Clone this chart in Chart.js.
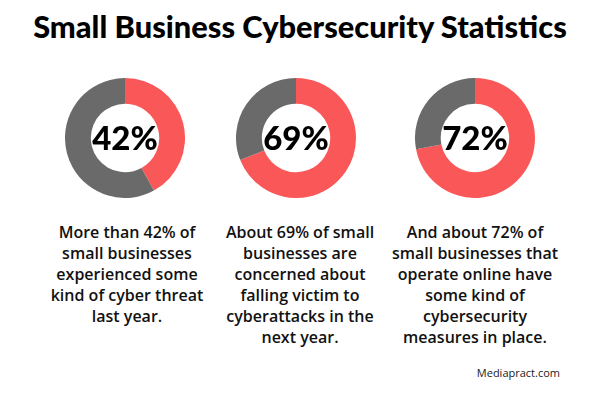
<!DOCTYPE html>
<html>
<head>
<meta charset="utf-8">
<script src="https://cdn.jsdelivr.net/npm/chart.js@4/dist/chart.umd.min.js"></script>
<style>
   html, body { margin: 0; padding: 0; background: #fff; }
   #page { position: relative; width: 600px; height: 400px; overflow: hidden; }
   #titulo {
      position: absolute; left: 0; top: 8px; width: 600px; text-align: center;
      font-family: Lato, sans-serif; font-weight: 900; font-size: 30.8px; color: #000;
   }
   .anel { position: absolute; top: 78px; width: 120px; height: 120px; }
   .legenda {
      position: absolute; top: 222px; width: 190px; text-align: center;
      font-family: "Open Sans", sans-serif; font-weight: 600; font-size: 16px;
      line-height: 21px; color: #111;
   }
   #fonte {
      position: absolute; right: 40px; top: 365px;
      font-family: "Open Sans", sans-serif; font-size: 11px; color: #222;
   }
</style>
</head>
<body>
<div id="page">
   <div id="titulo">Small Business Cybersecurity Statistics</div>
   <div id="fonte">Mediapract.com</div>
</div>
<script>
//-> DADOS DO GRÁFICO...
const categorias = ['Yes', 'No'];
const percentuais = [42, 69, 72];
const restantes = [58, 31, 28];
const rotulos = ['42%', '69%', '72%'];
const legendas = [
   ['More than 42% of', 'small businesses', 'experienced some', 'kind of cyber threat', 'last year.'],
   ['About 69% of small', 'businesses are', 'concerned about', 'falling victim to', 'cyberattacks in the', 'next year.'],
   ['And about 72% of', 'small businesses that', 'operate online have', 'some kind of', 'cybersecurity', 'measures in place.']
];
const centros = [125, 296, 475];
const centrosTexto = [127, 300, 475];

//-> TEXTO NO CENTRO DO ANEL...
const textoCentro = {
   id: 'textoCentro',
   afterDraw(chart) {
      const ctx = chart.ctx;
      const meta = chart.getDatasetMeta(0).data[0];
      ctx.save();
      ctx.font = '900 33px Lato, sans-serif';
      ctx.fillStyle = '#000';
      ctx.textAlign = 'center';
      ctx.textBaseline = 'middle';
      ctx.fillText(chart.options.plugins.textoCentro.texto, meta.x, meta.y + 1);
      ctx.restore();
   }
};

const page = document.getElementById('page');

for (let i = 0; i < percentuais.length; i++) {
   let cv = document.createElement('canvas');
   cv.className = 'anel';
   cv.style.left = (centros[i] - 60) + 'px';
   cv.width = 120;
   cv.height = 120;
   page.appendChild(cv);

   let leg = document.createElement('div');
   leg.className = 'legenda';
   leg.style.left = (centrosTexto[i] - 95) + 'px';
   leg.innerHTML = legendas[i].join('<br>');
   page.appendChild(leg);

   new Chart(cv.getContext('2d'), {
      type: 'doughnut',
      data: {
         labels: categorias,
         datasets: [{
            data: [percentuais[i], restantes[i]],
            backgroundColor: ['#fa5858', '#6a6a6a'],
            borderWidth: 0
         }]
      },
      options: {
         responsive: false,
         animation: false,
         cutout: '57%',
         layout: { padding: 0 },
         plugins: {
            legend: { display: false },
            tooltip: { enabled: false },
            textoCentro: { texto: rotulos[i] }
         }
      },
      plugins: [textoCentro]
   });
}
</script>
</body>
</html>
